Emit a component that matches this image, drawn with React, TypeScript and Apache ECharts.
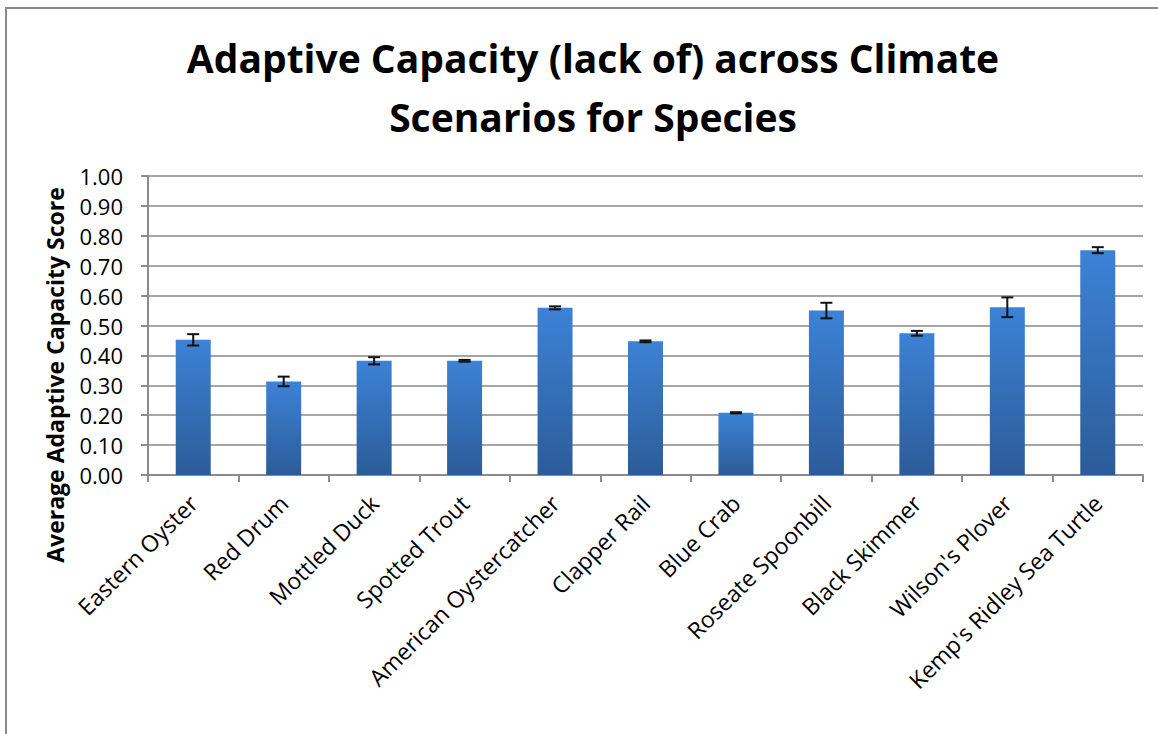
import React, { useEffect, useRef } from "react";
import * as echarts from "echarts";

const categories = [
  "Eastern Oyster",
  "Red Drum",
  "Mottled Duck",
  "Spotted Trout",
  "American Oystercatcher",
  "Clapper Rail",
  "Blue Crab",
  "Roseate Spoonbill",
  "Black Skimmer",
  "Wilson's Plover",
  "Kemp's Ridley Sea Turtle",
];
const scores = [0.452, 0.313, 0.382, 0.382, 0.559, 0.447, 0.208, 0.55, 0.474, 0.561, 0.752];
const errors = [0.019, 0.016, 0.012, 0.003, 0.005, 0.003, 0.002, 0.026, 0.008, 0.033, 0.01];
const titleLines = ["Adaptive Capacity (lack of) across Climate", "Scenarios for Species"];
const yAxisTitle = "Average Adaptive Capacity Score";

const FONT = "'Open Sans', 'Noto Sans', sans-serif";

export default function App() {
  const ref = useRef<HTMLDivElement>(null);
  useEffect(() => {
    if (!ref.current) return;
    const chart = echarts.init(ref.current, undefined, { renderer: "svg" });
    const errData = scores.map((v, i) => [i, v - errors[i], v + errors[i]]);
    chart.setOption({
      animation: false,
      backgroundColor: "#ffffff",
      title: {
        text: titleLines.join("\n"),
        left: 588,
        top: 23,
        textAlign: "center",
        textStyle: {
          fontFamily: FONT,
          fontWeight: "bold",
          fontSize: 39,
          lineHeight: 59,
          color: "#000000",
        },
      },
      graphic: [
        {
          type: "rect",
          shape: { x: 6, y: 8, width: 1300, height: 900 },
          style: { fill: "none", stroke: "#8a8a8a", lineWidth: 2 },
          silent: true,
        },
        {
          type: "text",
          x: 55,
          y: 375,
          rotation: Math.PI / 2,
          style: {
            text: yAxisTitle,
            fontFamily: FONT,
            fontWeight: "bold",
            fontSize: 23,
            fill: "#000000",
            align: "center",
            verticalAlign: "middle",
          },
        },
      ],
      grid: { left: 148, right: 15, top: 176, bottom: 259, containLabel: false },
      xAxis: {
        type: "category",
        data: categories,
        axisLine: { lineStyle: { color: "#8c8c8c", width: 2 } },
        axisTick: { show: true, length: 7, lineStyle: { color: "#8c8c8c", width: 2 } },
        axisLabel: {
          rotate: 45,
          margin: 24,
          interval: 0,
          fontFamily: FONT,
          fontSize: 23,
          color: "#000000",
        },
      },
      yAxis: {
        type: "value",
        min: 0,
        max: 1,
        interval: 0.1,
        axisLine: { show: true, lineStyle: { color: "#8c8c8c", width: 2 } },
        axisTick: { show: true, length: 7, lineStyle: { color: "#8c8c8c", width: 2 } },
        splitLine: { lineStyle: { color: "#a6a6a6", width: 2 } },
        axisLabel: {
          margin: 25,
          formatter: (v: number) => v.toFixed(2),
          fontFamily: FONT,
          fontSize: 22,
          color: "#000000",
        },
      },
      series: [
        {
          type: "bar",
          data: scores,
          barWidth: 35,
          itemStyle: {
            color: new echarts.graphic.LinearGradient(0, 0, 0, 1, [
              { offset: 0, color: "#3c82d6" },
              { offset: 1, color: "#2c5c98" },
            ]),
          },
        },
        {
          type: "custom",
          data: errData,
          z: 5,
          renderItem: (params: any, api: any) => {
            const x = api.coord([api.value(0), api.value(1)])[0];
            const lo = api.coord([api.value(0), api.value(1)])[1];
            const hi = api.coord([api.value(0), api.value(2)])[1];
            const cap = 6;
            const style = { stroke: "#111111", lineWidth: 2 };
            return {
              type: "group",
              children: [
                { type: "line", shape: { x1: x, y1: lo, x2: x, y2: hi }, style },
                { type: "line", shape: { x1: x - cap, y1: lo, x2: x + cap, y2: lo }, style },
                { type: "line", shape: { x1: x - cap, y1: hi, x2: x + cap, y2: hi }, style },
              ],
            };
          },
        },
      ],
    });
    return () => chart.dispose();
  }, []);
  return (
    <div
      ref={ref}
      style={{ position: "absolute", left: 0, top: 0, width: 1158, height: 734 }}
    />
  );
}
